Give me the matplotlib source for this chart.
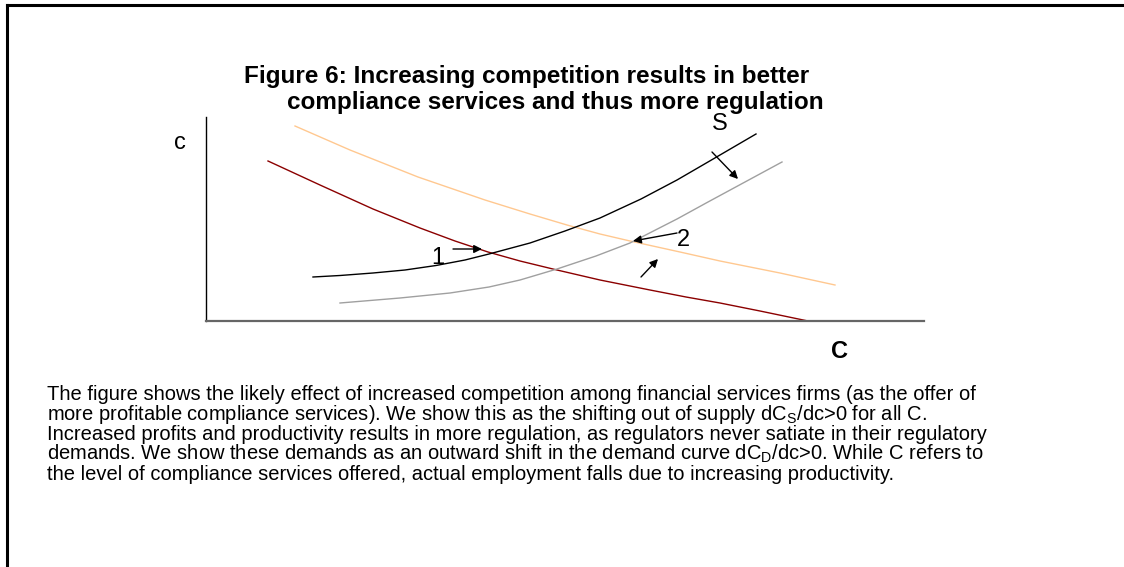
import matplotlib
matplotlib.use("Agg")
import matplotlib.pyplot as plt
from matplotlib.lines import Line2D

plt.rcParams['font.family'] = ['Liberation Sans', 'DejaVu Sans']
plt.rcParams['mathtext.fontset'] = 'custom'
plt.rcParams['mathtext.rm'] = 'Liberation Sans'

# curves (x = quantity C, y = price c, arbitrary units)
supply_x = [107, 134, 167, 199, 230, 259, 283, 324, 359, 394, 435, 471, 502, 550]
supply_y = [44, 45.5, 48, 51, 55.5, 61, 67, 78, 90, 103, 122, 141, 159, 187]

supply2_x = [134, 194, 244, 283, 314, 351, 390, 424, 471, 502, 539, 576]
supply2_y = [18, 23, 28, 34, 41, 52, 65, 78, 102, 119, 139, 159]

demand_x = [62, 114, 167, 214, 249, 282, 314, 351, 394, 444, 480, 514, 554, 602]
demand_y = [160, 136, 112, 93, 80, 69, 60, 51, 41, 31, 24, 18, 10, 0]

demand2_x = [89, 144, 212, 279, 324, 361, 394, 424, 474, 514, 574, 629]
demand2_y = [195, 171, 144, 121, 107, 96, 87, 80, 69, 60, 48, 36]

title_lines = ["Figure 6: Increasing competition results in better",
               "compliance services and thus more regulation"]
caption = [
    "The figure shows the likely effect of increased competition among financial services firms (as the offer of",
    r"more profitable compliance services). We show this as the shifting out of supply dC$_\mathrm{S}$/dc>0 for all C.",
    "Increased profits and productivity results in more regulation, as regulators never satiate in their regulatory",
    r"demands. We show these demands as an outward shift in the demand curve dC$_\mathrm{D}$/dc>0. While C refers to",
    "the level of compliance services offered, actual employment falls due to increasing productivity.",
]

W, H = 1124, 567
fig = plt.figure(figsize=(W / 100, H / 100), dpi=100)

# outer frame (only left and top edges fall inside the picture)
fig.add_artist(Line2D([7 / W, 7 / W], [0, 1 - 5 / H], transform=fig.transFigure,
                      color='black', lw=2.2, solid_capstyle='projecting'))
fig.add_artist(Line2D([7 / W, 1], [1 - 5 / H, 1 - 5 / H], transform=fig.transFigure,
                      color='black', lw=2.2, solid_capstyle='projecting'))

ax = fig.add_axes([206 / W, 246 / H, 718 / W, 204 / H])
ax.set_xlim(0, 718)
ax.set_ylim(0, 204)
for s in ['top', 'right']:
    ax.spines[s].set_visible(False)
ax.spines['left'].set_color('black')
ax.spines['left'].set_linewidth(1.0)
ax.spines['bottom'].set_color('#666666')
ax.spines['bottom'].set_linewidth(1.6)
ax.set_xticks([])
ax.set_yticks([])

ax.plot(demand2_x, demand2_y, color='#ffc890', lw=1.0, clip_on=False)
ax.plot(demand_x, demand_y, color='#8b0000', lw=1.0, clip_on=False)
ax.plot(supply2_x, supply2_y, color='#a0a0a0', lw=1.0, clip_on=False)
ax.plot(supply_x, supply_y, color='black', lw=1.0, clip_on=False)

arr = dict(arrowstyle='-|>', color='black', lw=1.0, mutation_scale=12, shrinkA=0, shrinkB=0)
ax.annotate('', xy=(276, 72), xytext=(247, 72), arrowprops=arr)
ax.annotate('', xy=(427, 80), xytext=(471, 88), arrowprops=arr)
ax.annotate('', xy=(532, 142), xytext=(506, 169), arrowprops=arr)
ax.annotate('', xy=(452, 62), xytext=(435, 44), arrowprops=arr)

ax.text(232, 63, '1', fontsize=17, ha='center', va='center')
ax.text(477, 81, '2', fontsize=17, ha='center', va='center')
ax.text(514, 197, 'S', fontsize=17, ha='center', va='center', clip_on=False)
ax.text(-26, 178, 'c', fontsize=17, ha='center', va='center', clip_on=False)
ax.text(634, -31, 'C', fontsize=17, fontweight='bold', ha='center', va='center', clip_on=False)

fig.text(527 / W, 1 - 76 / H, title_lines[0], fontsize=17.5, fontweight='bold',
         ha='center', va='center')
fig.text(555 / W, 1 - 102 / H, title_lines[1], fontsize=17.5, fontweight='bold',
         ha='center', va='center')

for i, line in enumerate(caption):
    fig.text(47 / W, 1 - (394 + 20 * i) / H, line, fontsize=14.5, ha='left', va='center')

fig.savefig('out.png', dpi=100)
